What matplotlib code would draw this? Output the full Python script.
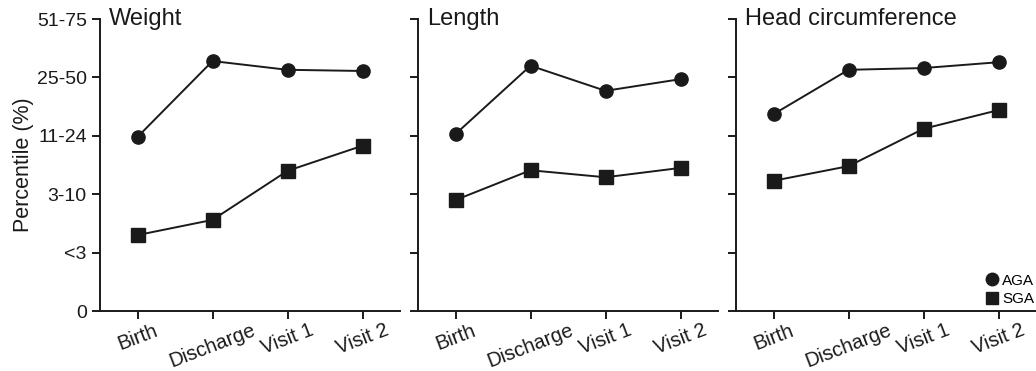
import matplotlib

matplotlib.use("Agg")
import matplotlib.pyplot as plt
from matplotlib.lines import Line2D

plt.rcParams["font.family"] = ["Liberation Sans", "DejaVu Sans"]

visits = ["Birth", "Discharge", "Visit 1", "Visit 2"]
y_ticklabels = ["0", "<3", "3-10", "11-24", "25-50", "51-75"]
panels = ["Weight", "Length", "Head circumference"]

# percentile category position (0..5)
aga_weight = [2.98, 4.28, 4.13, 4.11]
sga_weight = [1.30, 1.56, 2.40, 2.83]
aga_length = [3.03, 4.20, 3.77, 3.97]
sga_length = [1.90, 2.41, 2.29, 2.45]
aga_head = [3.37, 4.13, 4.16, 4.26]
sga_head = [2.23, 2.48, 3.12, 3.44]

aga = [aga_weight, aga_length, aga_head]
sga = [sga_weight, sga_length, sga_head]

W, H = 1036, 371
fig = plt.figure(figsize=(W / 100, H / 100), dpi=100)

lefts = [100, 418, 736]
bottom = 1 - 311 / H
height = (311 - 19) / H
ink = "#1a1a1a"

for i, name in enumerate(panels):
    ax = fig.add_axes([lefts[i] / W, bottom, 300 / W, height])
    x = range(len(visits))
    ax.plot(x, aga[i], "-o", color=ink, lw=1.4, ms=9.5, clip_on=False)
    ax.plot(x, sga[i], "-s", color=ink, lw=1.4, ms=9.5, clip_on=False)
    ax.set_xlim(-0.5, 3.5)
    ax.set_ylim(0, 5)
    for s in ("top", "right"):
        ax.spines[s].set_visible(False)
    for s in ("left", "bottom"):
        ax.spines[s].set_linewidth(1.4)
        ax.spines[s].set_color(ink)
    ax.set_yticks(range(6))
    ax.tick_params(axis="both", direction="out", length=6, width=1.4, color=ink)
    ax.tick_params(axis="x", pad=1)
    ax.set_xticks(list(x))
    ax.set_xticklabels(visits, rotation=21, ha="center", fontsize=14.5, color=ink)
    if i == 0:
        ax.set_yticklabels(y_ticklabels, fontsize=14, color=ink)
        ax.set_ylabel("Percentile (%)", fontsize=15.5, color=ink, labelpad=2)
    else:
        ax.set_yticklabels([])
    ax.text(0.03, 1.0, name, transform=ax.transAxes, fontsize=17, color=ink,
            va="center", ha="left")
    if i == 2:
        handles = [
            Line2D([], [], ls="none", marker="o", ms=9, color=ink, label="AGA"),
            Line2D([], [], ls="none", marker="s", ms=9, color=ink, label="SGA"),
        ]
        ax.legend(handles=handles, loc="lower right", frameon=False, fontsize=11,
                  handletextpad=0.1, borderaxespad=0.0, labelspacing=0.3,
                  bbox_to_anchor=(1.015, -0.005), handlelength=1.2)

fig.savefig("out.png", dpi=100)
